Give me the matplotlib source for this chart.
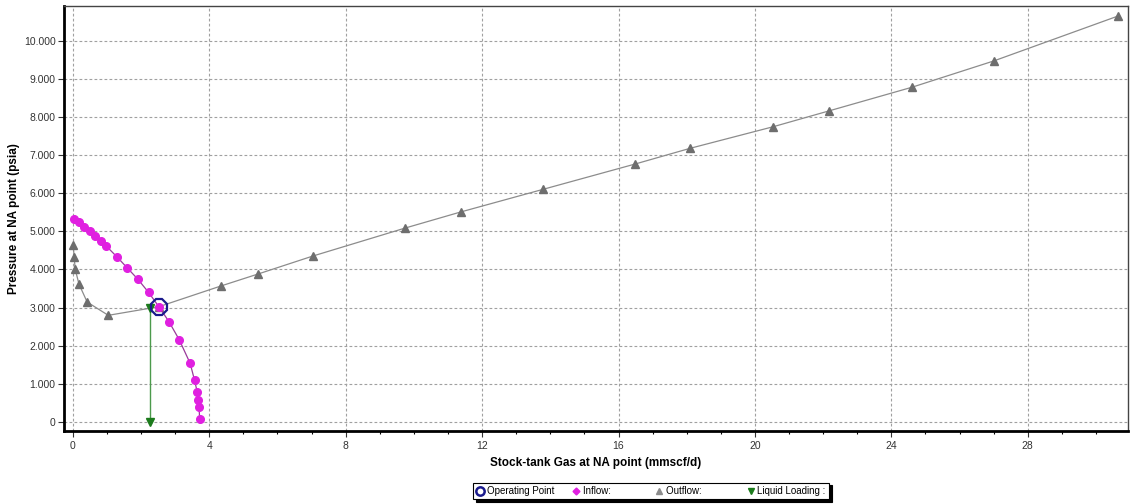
import matplotlib.pyplot as plt
from matplotlib.lines import Line2D
from matplotlib.ticker import MultipleLocator, FuncFormatter

plt.rcParams['font.family'] = ['Liberation Sans', 'DejaVu Sans']

# inflow (IPR) curve
inflow_q = [0.02, 0.18, 0.34, 0.50, 0.65, 0.82, 0.98, 1.29, 1.60, 1.91,
            2.22, 2.53, 2.82, 3.12, 3.44, 3.57, 3.65, 3.67, 3.70, 3.72]
inflow_p = [5317, 5238, 5114, 5001, 4878, 4739, 4615, 4334, 4037, 3740,
            3399, 3013, 2627, 2154, 1534, 1087, 772, 562, 394, 63]

# outflow (VLP) curve
outflow_q = [0.01, 0.04, 0.07, 0.18, 0.42, 1.04, 2.52, 4.34, 5.43, 7.04,
             9.75, 11.37, 13.79, 16.49, 18.10, 20.54, 22.16, 24.60, 27.00, 30.65]
outflow_p = [4642, 4319, 4004, 3617, 3144, 2795, 3021, 3565, 3880, 4353,
             5089, 5509, 6105, 6770, 7182, 7750, 8162, 8785, 9476, 10658]

op_q, op_p = 2.52, 3021
liquid_q = [2.26, 2.26]
liquid_p = [3000, 0]

fig = plt.figure(figsize=(11.32, 5.04), dpi=100)
ax = fig.add_axes([0.0565, 0.1448, 0.94, 0.8432])

ax.plot(outflow_q, outflow_p, color='#8c8c8c', lw=0.9, marker='^',
        ms=6, mfc='#6e6e6e', mec='#6e6e6e', zorder=3)
ax.plot(inflow_q, inflow_p, color='#9a3a9a', lw=0.9, marker='o',
        ms=5.5, mfc='#e020e0', mec='#e020e0', zorder=4)
ax.plot(liquid_q, liquid_p, color='#4c9a4c', lw=1.0, marker='v',
        ms=6, mfc='#1b7a1b', mec='#1b7a1b', zorder=5)
ax.plot([op_q], [op_p], marker='8', ms=13, mfc='none', mec='#1a1a8c',
        mew=1.6, ls='none', zorder=6)

ax.set_xlim(-0.26, 30.94)
ax.set_ylim(-244, 10919)
ax.xaxis.set_major_locator(MultipleLocator(4))
ax.xaxis.set_minor_locator(MultipleLocator(1))
ax.yaxis.set_major_locator(MultipleLocator(1000))
ax.yaxis.set_major_formatter(FuncFormatter(lambda v, pos: f"{int(v):,}".replace(",", ".")))

ax.grid(True, which='major', color='#a0a0a0', ls=(0, (2.5, 2)), lw=0.8)
ax.tick_params(which='major', length=4, width=0.8, labelsize=7.5, colors='#333333')
ax.tick_params(axis='y', which='major', pad=2)
ax.tick_params(which='minor', length=2.5, width=0.8)
ax.tick_params(axis='y', which='minor', left=False)

for side in ['left', 'bottom']:
    ax.spines[side].set_linewidth(2)
    ax.spines[side].set_color('black')
for side in ['top', 'right']:
    ax.spines[side].set_linewidth(1)
    ax.spines[side].set_color('#444444')

ax.set_xlabel('Stock-tank Gas at NA point (mmscf/d)', fontsize=8.5,
              fontweight='bold', labelpad=4)
ax.set_ylabel('Pressure at NA point (psia)', fontsize=8.5, fontweight='bold')
ax.yaxis.set_label_coords(-0.041, 0.5)

handles = [
    Line2D([], [], ls='none', marker='o', ms=6, mfc='none', mec='#1a1a8c', mew=1.8),
    Line2D([], [], ls='none', marker='D', ms=3.5, mfc='#e020e0', mec='#e020e0'),
    Line2D([], [], ls='none', marker='^', ms=4, mfc='#8c8c8c', mec='#8c8c8c'),
    Line2D([], [], ls='none', marker='v', ms=4, mfc='#1b7a1b', mec='#1b7a1b'),
]
labels = ['Operating Point', 'Inflow:          ', 'Outflow:          ', 'Liquid Loading :']
leg = fig.legend(handles, labels, loc='center', bbox_to_anchor=(651 / 1132, 1 - 491 / 504),
                 ncol=4, fontsize=7, frameon=True, fancybox=False,
                 shadow={'color': 'black', 'alpha': 1.0},
                 handlelength=0.8, handletextpad=0.3, columnspacing=1.8,
                 borderpad=0.35, edgecolor='black')
leg.get_frame().set_linewidth(0.8)

fig.savefig('out.png', dpi=100)
